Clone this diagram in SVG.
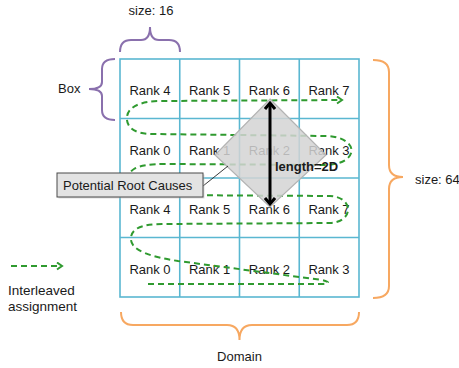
<svg xmlns="http://www.w3.org/2000/svg" width="459" height="368" viewBox="0 0 459 368">
<defs>
<style>
text{font-family:"Liberation Sans",Arial,sans-serif;font-size:13px;fill:#1a1a1a}
.rk{text-anchor:middle}
.cell{fill:none;stroke:#5ab7d1;stroke-width:1.6}
.green{fill:none;stroke:#2f9a2f;stroke-width:2;stroke-dasharray:6 4}
.purple{fill:none;stroke:#8a70ad;stroke-width:2}
.orange{fill:none;stroke:#f7a861;stroke-width:2}
</style>
<marker id="ga" markerWidth="10" markerHeight="10" refX="6" refY="4" orient="auto" markerUnits="userSpaceOnUse">
<polyline points="1,0.5 6,4 1,7.5" fill="none" stroke="#2f9a2f" stroke-width="2"/>
</marker>
<marker id="ba" markerWidth="14" markerHeight="12" refX="7" refY="6" orient="auto-start-reverse" markerUnits="userSpaceOnUse">
<polyline points="1,1 7,6 1,11" fill="none" stroke="#000" stroke-width="3"/>
</marker>
</defs>
<rect width="459" height="368" fill="#fff"/>

<g id="grid">
<rect class="cell" x="120" y="59" width="239" height="238"/>
<line class="cell" x1="179.75" y1="59" x2="179.75" y2="297"/>
<line class="cell" x1="239.5" y1="59" x2="239.5" y2="297"/>
<line class="cell" x1="299.25" y1="59" x2="299.25" y2="297"/>
<line class="cell" x1="120" y1="118.5" x2="359" y2="118.5"/>
<line class="cell" x1="120" y1="178" x2="359" y2="178"/>
<line class="cell" x1="120" y1="237.5" x2="359" y2="237.5"/>
</g>

<g id="ranks">
<text class="rk" x="150" y="95">Rank 4</text>
<text class="rk" x="209.6" y="95">Rank 5</text>
<text class="rk" x="269.4" y="95">Rank 6</text>
<text class="rk" x="329" y="95">Rank 7</text>
<text class="rk" x="150" y="155">Rank 0</text>
<text class="rk" x="209.6" y="155">Rank 1</text>
<text class="rk" x="269.4" y="155">Rank 2</text>
<text class="rk" x="329" y="155">Rank 3</text>
<text class="rk" x="150" y="214">Rank 4</text>
<text class="rk" x="209.6" y="214">Rank 5</text>
<text class="rk" x="269.4" y="214">Rank 6</text>
<text class="rk" x="329" y="214">Rank 7</text>
<text class="rk" x="150" y="273.5">Rank 0</text>
<text class="rk" x="209.6" y="273.5">Rank 1</text>
<text class="rk" x="269.4" y="273.5">Rank 2</text>
<text class="rk" x="329" y="273.5">Rank 3</text>
</g>

<g id="connectors">
<path id="interleave" class="green" marker-end="url(#ga)" d="M148,284 L322,284 Q334,283 322,280 L178,261 C152,257 132,251 131,240 C130,229 141,224 162,224 L330,223 C354,222 354,197 330,196 L150,195 C132,195 122,176 134,169 C141,165 150,164 166,164 L326,165 C360,164 360,137 326,136 L152,134 C134,134 126,127 127,117 C128,107 140,101 162,101 L342,100"/>
<path id="legend-arrow" class="green" marker-end="url(#ga)" d="M11,266 L62,266"/>
</g>

<g id="root-causes">
<polygon points="270,99 326,155 270,207 215,155" fill="#d4d4d4" fill-opacity="0.85" stroke="#b3b3b3" stroke-width="1.2"/>
<line x1="270" y1="103" x2="270" y2="204" stroke="#000" stroke-width="3" marker-start="url(#ba)" marker-end="url(#ba)"/>
<text x="275" y="171" font-weight="bold">length=2D</text>
</g>

<g id="callout">
<line x1="203" y1="186" x2="228" y2="166" stroke="#222" stroke-width="0.9"/>
<rect x="58.5" y="174.5" width="146" height="24" fill="#bbb" opacity="0.5"/>
<rect x="57" y="173" width="146" height="24" fill="#e3e3e3" stroke="#4a4a4a" stroke-width="1"/>
<text x="63" y="190">Potential Root Causes</text>
</g>

<g id="box-brace">
<path class="purple" d="M115,59 Q102,59 102,69 L102,82 Q102,89 89,89 Q102,89 102,96 L102,110 Q102,120 115,120"/>
<text x="58" y="93">Box</text>
</g>

<g id="size16">
<path class="purple" d="M120,52 Q120,40 131,40 L141,40 Q150,40 150,27 Q150,40 159,40 L169,40 Q180,40 180,52"/>
<text x="151" y="15" text-anchor="middle">size: 16</text>
</g>

<g id="size64">
<path class="orange" d="M373,60 Q389,60 389,72 L389,165 Q389,177 403,177 Q389,177 389,189 L389,286 Q389,298 373,298"/>
<text x="415" y="184">size: 64</text>
</g>

<g id="domain">
<path class="orange" d="M121,312 Q121,325 133,325 L227,325 Q239.5,325 239.5,340 Q239.5,325 252,325 L347,325 Q359,325 359,312"/>
<text x="239.5" y="361" text-anchor="middle">Domain</text>
</g>

<g id="legend">
<text x="8" y="295" style="font-size:13.5px">Interleaved</text>
<text x="8" y="311" style="font-size:13.5px">assignment</text>
</g>
</svg>
